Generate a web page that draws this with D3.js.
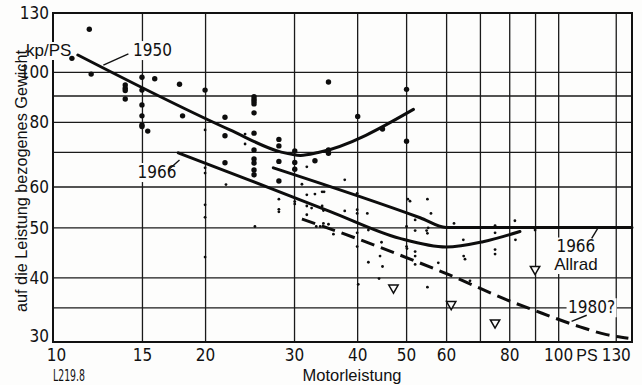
<!DOCTYPE html>
<html>
<head>
<meta charset="utf-8">
<script src="https://cdn.jsdelivr.net/npm/d3@7/dist/d3.min.js"></script>
<style>
  body { margin: 0; background: #fff; }
  svg text { fill: #111; }
  .num { font-family: "Liberation Sans Narrow", "Arial Narrow", "DejaVu Sans Condensed", sans-serif; }
  .word { font-family: "Liberation Sans", Arial, sans-serif; }
</style>
</head>
<body>
<div id="chart"></div>
<script>
// log-log chart: Motorleistung (PS) vs. weight per power (kp/PS)
const xGrid = [15, 20, 30, 40, 50, 60, 70, 80, 90, 100, 130];
const xTickLabels = [10, 15, 20, 30, 40, 50, 60, 80, 100, 130];
const yGrid = [35, 40, 50, 60, 70, 80, 90, 100];
const yTickLabels = [130, 100, 80, 60, 50, 40, 30];

// trend curves [PS, kp/PS]
const line1950 = [[11.2, 107.8], [22.4, 77.2], [28.2, 70.0], [30.9, 68.9], [33.5, 69.8], [51.7, 84.6]];
const line1966 = [[17.7, 69.7], [24.4, 61.8], [35.3, 53.7], [48.6, 47.6], [60, 45.8], [71, 46.9], [84, 49.1]];
const line1966Allrad = [[27.3, 65.2], [53.3, 52.2], [60, 50], [140, 50]];
const line1980 = [[31.1, 51.9], [39.9, 47.6], [52.5, 42.9], [61.1, 40.4], [79.1, 36.2], [89.3, 34.6], [110.5, 32.1], [124.7, 31.0], [137.7, 30.5]];

// measured vehicles
const bigDots = [
  [11.8, 120.9], [10.9, 106.2], [11.9, 99.0],
  [13.9, 94.3], [13.9, 93.0], [13.9, 92.0], [13.9, 88.6],
  [15, 97.6], [15, 92.2], [15, 86.3], [15, 82.2], [15, 78.9], [15, 78.4],
  [15.4, 76.8], [15.9, 97.0], [17.8, 94.6], [18.05, 82.2], [20, 92.2],
  [25, 89.5], [25, 88.5], [25, 87.6], [25, 86.7], [25, 83.3],
  [21.9, 81.7], [21.9, 75.2], [21.9, 66.7],
  [25, 76.1], [25, 70.6], [25, 67.8], [25, 66.6], [25, 64.6], [25, 63.2],
  [28, 74.0], [28, 71.9], [28, 67.1], [28, 61.5],
  [30.1, 70.3], [30.1, 66.8], [30.1, 64.8],
  [33.0, 67.3], [35.1, 70.6], [35.1, 69.6],
  [35.1, 95.6], [40.1, 82.0], [44.9, 77.5], [50.1, 92.5], [50.1, 73.4]
];
const smallDots = [
  [20, 77.2], [20, 65.2], [20, 63.7], [24, 75.8], [24, 72.5], [31.8, 65.5],
  [22, 60.5], [20, 55.3], [20, 52.3], [20, 43.8], [25.1, 50.2],
  [28, 56.7], [28, 54.2], [28, 53.6], [30.1, 56.1], [30.1, 55.5], [31.1, 60.6],
  [31.8, 57.8], [33.0, 58.0], [34.1, 58.6], [34.4, 58.6],
  [31.8, 55.0], [31.8, 52.9], [32.5, 54.5], [34.1, 55.0], [34.3, 53.9],
  [37.8, 61.8], [37.8, 53.8], [40.0, 58.2], [40.0, 54.1], [40.0, 53.2], [41.9, 53.2],
  [33.2, 50.2], [33.8, 50.2], [34.3, 50.9], [35.1, 50.7],
  [35.9, 48.5], [40.0, 48.8], [40.0, 45.9], [42.1, 49.4], [42.1, 42.8],
  [44.7, 46.8], [44.4, 44.0], [44.9, 42.0], [44.2, 39.8], [40.2, 38.8],
  [50.1, 45.9], [50.1, 50.2], [52.1, 44.9], [52.1, 44.0], [52.1, 42.4],
  [50.4, 56.7], [50.9, 56.2], [55.1, 56.7], [56.0, 53.2], [52.1, 51.7],
  [52.1, 49.3], [54.9, 49.3], [55.1, 48.7], [55.3, 49.9],
  [50.2, 45.5], [55.1, 38.3], [57.9, 42.7], [62.2, 50.9],
  [64.9, 47.3], [65.0, 44.0], [65.4, 43.4], [66.9, 39.4],
  [75, 50.4], [75, 48.8], [75, 45.3], [75, 44.4],
  [82.1, 51.5], [82.3, 47.3], [90, 49.4]
];
const triangles = [[47.2, 38.2], [61.4, 35.5], [75, 32.7], [90, 41.5]];

const width = 642, height = 385;
const margin = {top: 13, right: 10, bottom: 43, left: 53};
const paper = "#fdfdfc";

const svg = d3.select("#chart").append("svg")
    .attr("width", width)
    .attr("height", height)
    .style("background", paper);

const x = d3.scaleLog().domain([10, 140]).range([margin.left, width - margin.right]);
const y = d3.scaleLog().domain([30, 130]).range([height - margin.bottom, margin.top]);
const plotH = y(30) - y(130);
const plotW = x(140) - x(10);

// grid
svg.append("g")
    .attr("transform", `translate(0,${y(30)})`)
    .call(d3.axisBottom(x).tickValues(xGrid).tickSize(-plotH).tickFormat(""))
    .call(g => g.select(".domain").remove())
    .selectAll("line").attr("stroke", "#1a1a1a").attr("stroke-width", 1.3);

svg.append("g")
    .attr("transform", `translate(${x(10)},0)`)
    .call(d3.axisLeft(y).tickValues(yGrid).tickSize(-plotW).tickFormat(""))
    .call(g => g.select(".domain").remove())
    .selectAll("line").attr("stroke", "#1a1a1a").attr("stroke-width", 1.3);

svg.append("rect")
    .attr("x", x(10)).attr("y", y(130))
    .attr("width", plotW).attr("height", plotH)
    .attr("fill", "none").attr("stroke", "#111").attr("stroke-width", 2);

// tick labels
svg.append("g")
    .attr("transform", `translate(0,${y(30)})`)
    .call(d3.axisBottom(x).tickValues(xTickLabels).tickSize(0).tickPadding(7).tickFormat(d3.format("d")))
    .call(g => g.select(".domain").remove())
    .selectAll("text")
    .attr("class", "num")
    .style("font-size", "17px")
    .attr("fill", "#111")
    .attr("dx", d => d === 10 ? 3 : 0);

svg.append("g")
    .attr("transform", `translate(${x(10) - 4},0)`)
    .call(d3.axisLeft(y).tickValues(yTickLabels).tickSize(0).tickPadding(0).tickFormat(d3.format("d")))
    .call(g => g.select(".domain").remove())
    .selectAll("text")
    .attr("class", "num")
    .style("font-size", "17px")
    .attr("fill", "#111")
    .attr("dy", d => d === 30 ? "-0.05em" : "0.35em");

svg.append("text")
    .attr("class", "word")
    .attr("x", x(114)).attr("y", y(30) + 19)
    .attr("text-anchor", "middle")
    .style("font-size", "16px")
    .text("PS");

svg.append("text")
    .attr("class", "word")
    .attr("x", 352).attr("y", 381)
    .attr("text-anchor", "middle")
    .style("font-size", "16.5px")
    .text("Motorleistung");

svg.append("text")
    .attr("class", "num")
    .attr("x", x(10)).attr("y", 381)
    .attr("textLength", 32).attr("lengthAdjust", "spacingAndGlyphs")
    .style("font-size", "15px")
    .text("L219.8");

// labels with paper-white boxes
function boxedText(px, py, lines, cls, size, anchor) {
    const g = svg.append("g");
    const t = g.append("text")
        .attr("class", cls)
        .attr("text-anchor", anchor || "start")
        .style("font-size", size + "px");
    lines.forEach((s, i) => {
        t.append("tspan").attr("x", px).attr("y", py + i * 18.5).text(s);
    });
    const b = t.node().getBBox();
    g.insert("rect", "text")
        .attr("x", b.x - 1.5).attr("y", b.y + 1)
        .attr("width", b.width + 3).attr("height", b.height - 1)
        .attr("fill", paper);
    return g;
}

boxedText(x(10) - 27, y(130) + 43, ["kp/PS"], "word", 17, "start");
boxedText(x(14.4), y(107.3), ["1950"], "num", 17, "start");
boxedText(x(14.7), y(62.3), ["1966"], "num", 17, "start");
boxedText(x(108.4), y(44.9), ["1966", "Allrad"], "word", 17, "middle")
    .select("tspan").attr("class", "num");
boxedText(x(104.6), y(34.1), ["1980?"], "num", 17, "start");

// y axis title, drawn after the kp/PS box, reads bottom to top from y=312
svg.append("text")
    .attr("class", "word")
    .attr("transform", `translate(27,312) rotate(-90)`)
    .attr("text-anchor", "start")
    .attr("textLength", 262).attr("lengthAdjust", "spacingAndGlyphs")
    .style("font-size", "16px")
    .text("auf die Leistung bezogenes Gewicht");

// leader lines
const leaders = [
    [[12.58, 103.1], [14.1, 108.3]],
    [[16.9, 64.6], [17.8, 67.5]],
    [[116.5, 47.6], [120.1, 50]],
    [[113.9, 33.8], [106.3, 32.9]]
];
svg.append("g").selectAll("line").data(leaders).join("line")
    .attr("x1", d => x(d[0][0])).attr("y1", d => y(d[0][1]))
    .attr("x2", d => x(d[1][0])).attr("y2", d => y(d[1][1]))
    .attr("stroke", "#111").attr("stroke-width", 1.4);

// curves
const curve = d3.line()
    .x(d => x(d[0]))
    .y(d => y(d[1]))
    .curve(d3.curveMonotoneX);

const curves = svg.append("g")
    .attr("fill", "none")
    .attr("stroke", "#0d0d0d")
    .attr("stroke-width", 3)
    .attr("stroke-linecap", "round");

curves.append("path").attr("d", curve(line1950));
curves.append("path").attr("d", curve(line1966));
curves.append("path").attr("d", curve(line1966Allrad));
curves.append("path").attr("d", curve(line1980))
    .attr("stroke-dasharray", "14,7")
    .attr("stroke-linecap", "butt");

// points
svg.append("g").selectAll("circle").data(bigDots).join("circle")
    .attr("cx", d => x(d[0])).attr("cy", d => y(d[1]))
    .attr("r", 2.7).attr("fill", "#0d0d0d");

svg.append("g").selectAll("circle").data(smallDots).join("circle")
    .attr("cx", d => x(d[0])).attr("cy", d => y(d[1]))
    .attr("r", 1.4).attr("fill", "#0d0d0d");

const tri = d3.symbol().type(d3.symbolTriangle).size(38);
svg.append("g").selectAll("path").data(triangles).join("path")
    .attr("transform", d => `translate(${x(d[0])},${y(d[1])}) rotate(180)`)
    .attr("d", tri)
    .attr("fill", paper)
    .attr("stroke", "#0d0d0d")
    .attr("stroke-width", 1.5);
</script>
</body>
</html>
